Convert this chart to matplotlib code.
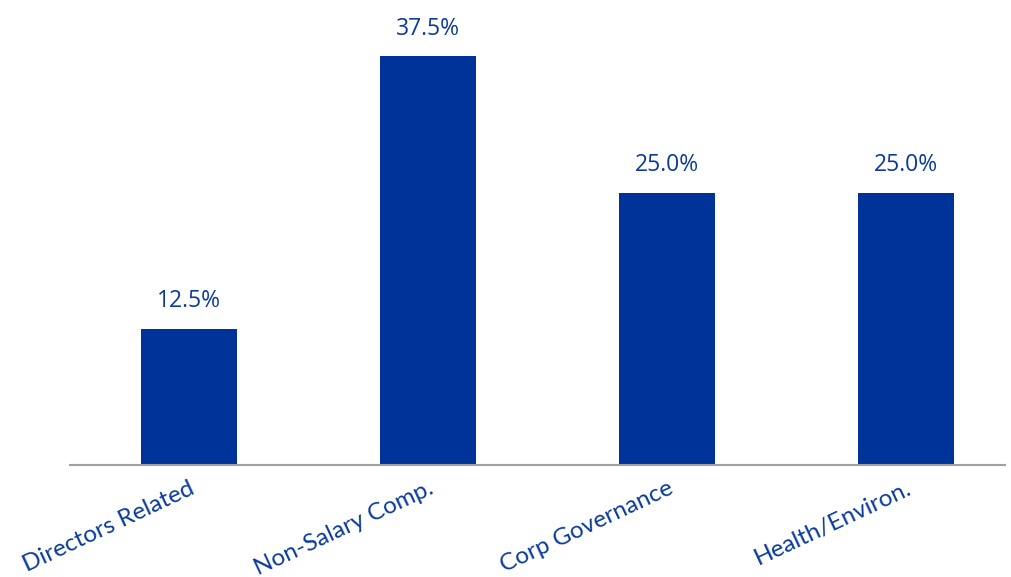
import matplotlib
matplotlib.use("Agg")
import matplotlib.pyplot as plt

categories = ["Directors Related", "Non-Salary Comp.", "Corp Governance", "Health/Environ."]
values = [12.5, 37.5, 25.0, 25.0]
value_labels = ["12.5%", "37.5%", "25.0%", "25.0%"]

bar_color = "#003399"
text_color = "#0a3b9c"

plt.rcParams['font.family'] = ['Open Sans', 'DejaVu Sans']

W, H = 1012, 577
fig = plt.figure(figsize=(W / 100, H / 100), dpi=100)
ax = fig.add_axes([70 / W, (H - 465) / H, (1005 - 70) / W, (465 - 29) / H])

x = list(range(len(categories)))
ax.bar(x, values, width=0.4, color=bar_color, zorder=2)
ax.set_ylim(0, 40)
ax.set_xlim(-0.498, 3.414)

for xi, v, lab in zip(x, values, value_labels):
    ax.annotate(lab, (xi, v), xytext=(0, 11), textcoords="offset points",
                ha="center", va="bottom", fontsize=16.5, color=text_color)

for s in ["top", "right", "left"]:
    ax.spines[s].set_visible(False)
ax.spines["bottom"].set_color("#a0a0a0")
ax.spines["bottom"].set_linewidth(1.5)
ax.set_yticks([])
ax.set_xticks(x)
ax.set_xticklabels(categories, rotation=25, ha="right", va="top",
                   rotation_mode="anchor", fontsize=17.5, color=text_color,
                   family=['Lato', 'DejaVu Sans'])
ax.tick_params(axis="x", length=0, pad=9)

fig.savefig("out.png", dpi=100)
